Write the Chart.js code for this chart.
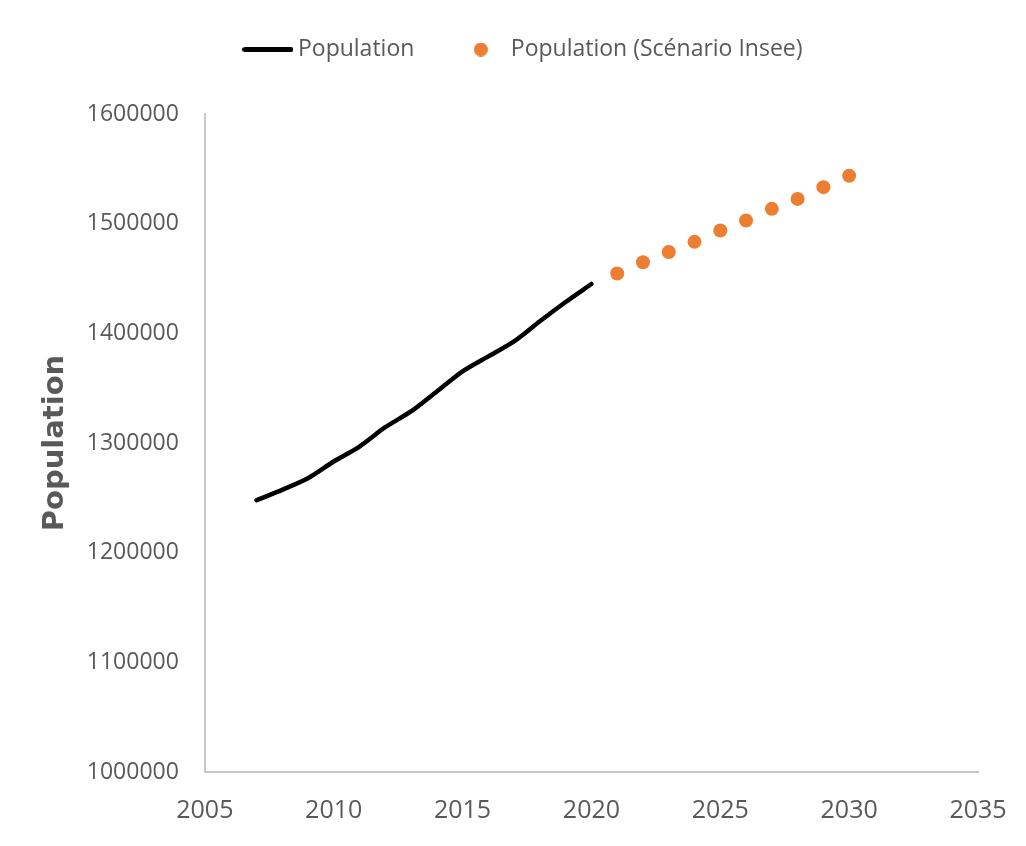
<!DOCTYPE html>
<html>
<head>
<meta charset="utf-8">
<script src="https://cdn.jsdelivr.net/npm/chart.js@4/dist/chart.umd.min.js"></script>
<style>
  body { margin: 0; background: #fff; }
  #wrap { width: 1026px; height: 846px; }
</style>
</head>
<body>
<div id="wrap"><canvas id="myChart"></canvas></div>
<script>
// donnees
const annees = [2007, 2008, 2009, 2010, 2011, 2012, 2013, 2014, 2015, 2016, 2017, 2018, 2019, 2020]
const population = [1247800, 1257300, 1267900, 1283100, 1296800, 1314400, 1328800, 1347000, 1365300, 1379000, 1392700, 1411000, 1428600, 1445000]
const annees_insee = [2021, 2022, 2023, 2024, 2025, 2026, 2027, 2028, 2029, 2030]
const population_insee = [1454500, 1464800, 1474200, 1483400, 1493800, 1502900, 1513500, 1522600, 1533300, 1543700]
const noms_series = ["Population", "Population (Scénario Insee)"]
const titre_y = "Population"

const gris = "#595959"
const orange = "#ED7D31"

function points(xs, ys){
    return xs.map((x, i) => ({x: x, y: ys[i]}))
}

// petits dessins pour la legende
function symbole_ligne(){
    const c = document.createElement("canvas")
    c.width = 51; c.height = 5
    const ctx = c.getContext("2d")
    ctx.fillStyle = "#000"
    ctx.beginPath()
    ctx.roundRect(0, 0, 51, 5, 2.5)
    ctx.fill()
    return c
}
function symbole_point(){
    const c = document.createElement("canvas")
    c.width = 14; c.height = 14
    const ctx = c.getContext("2d")
    ctx.fillStyle = orange
    ctx.beginPath()
    ctx.arc(7, 7, 7, 0, Math.PI * 2)
    ctx.fill()
    return c
}
const symboles = [symbole_ligne(), symbole_point()]

// espace sous la legende + petit decalage a droite
const marge_legende = {
    id: "marge_legende",
    beforeInit(chart){
        const fit = chart.legend.fit
        chart.legend.fit = function(){
            fit.bind(chart.legend)()
            this.height += 43
        }
    },
    afterLayout(chart){
        chart.legend.left += 18
        chart.legend.right += 18
    }
}

function generar_grafica(){
    const config = {
        type: "line",
        data: {
            datasets: [
                {
                    label: noms_series[0],
                    data: points(annees, population),
                    borderColor: "#000",
                    backgroundColor: "#000",
                    borderWidth: 4.5,
                    pointRadius: 0,
                    tension: 0.25,
                    borderCapStyle: "round"
                },
                {
                    label: noms_series[1],
                    data: points(annees_insee, population_insee),
                    showLine: false,
                    pointRadius: 7,
                    pointHoverRadius: 7,
                    pointBorderWidth: 0,
                    backgroundColor: orange,
                    borderColor: orange
                }
            ]
        },
        options: {
            responsive: true,
            maintainAspectRatio: false,
            animation: false,
            layout: { padding: { left: 38, right: 48, top: -10, bottom: -4 } },
            plugins: {
                tooltip: { enabled: false },
                legend: {
                    position: "top",
                    labels: {
                        usePointStyle: true,
                        pointStyleWidth: 37,
                        padding: 48,
                        color: gris,
                        font: { family: "'Open Sans', sans-serif", size: 23 },
                        generateLabels(chart){
                            const items = Chart.defaults.plugins.legend.labels.generateLabels(chart)
                            items.forEach((it, i) => { it.pointStyle = symboles[i] })
                            return items
                        }
                    }
                }
            },
            scales: {
                x: {
                    type: "linear",
                    min: 2005,
                    max: 2035,
                    grid: { display: false, drawTicks: false },
                    border: { display: true, color: "#c8c8c8", width: 2 },
                    afterFit(scale){
                        scale.paddingRight = 30
                    },
                    ticks: {
                        stepSize: 5,
                        padding: 24,
                        color: gris,
                        font: { family: "'Open Sans', sans-serif", size: 25 },
                        maxRotation: 0,
                        callback: v => String(v)
                    }
                },
                y: {
                    min: 1000000,
                    max: 1600000,
                    grid: { display: false, drawTicks: false },
                    border: { display: true, color: "#c8c8c8", width: 2 },
                    ticks: {
                        stepSize: 100000,
                        padding: 26,
                        color: gris,
                        font: { family: "'Open Sans', sans-serif", size: 23 },
                        callback: v => String(v)
                    },
                    title: {
                        display: true,
                        text: titre_y,
                        color: gris,
                        font: { family: "'DejaVu Sans', sans-serif", size: 29, weight: "bold" },
                        padding: { top: 0, bottom: -12 }
                    }
                }
            }
        },
        plugins: [marge_legende]
    }
    window.grafica = new Chart(document.getElementById("myChart"), config)
}

Promise.all([
    document.fonts.load("22px 'Open Sans'"),
    document.fonts.load("bold 29px 'DejaVu Sans'")
]).then(generar_grafica, generar_grafica)
</script>
</body>
</html>
